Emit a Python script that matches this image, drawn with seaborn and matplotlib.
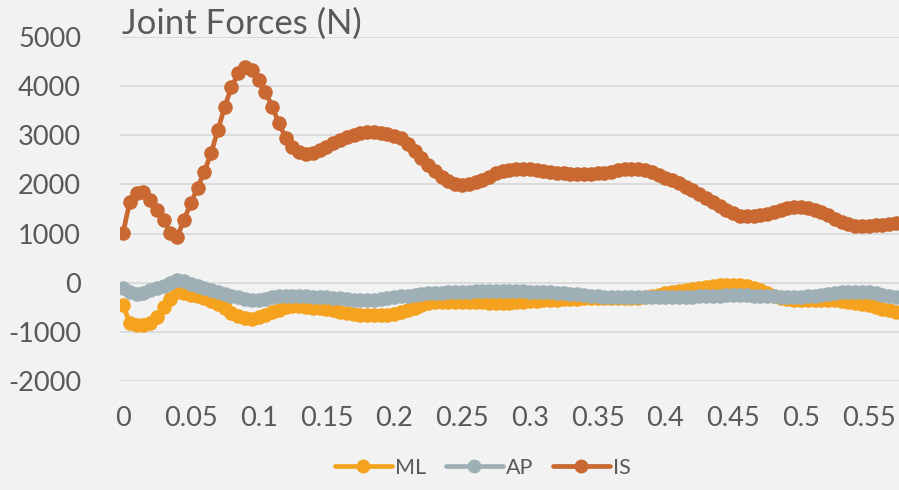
import matplotlib
matplotlib.use("Agg")
import matplotlib.pyplot as plt
import seaborn as sns
import pandas as pd
import numpy as np
from matplotlib.lines import Line2D

# joint force components, sampled every 0.005 s
step = 0.005

ml = [-456, -820, -860, -860, -820, -690, -500, -330, -190, -200,
      -240, -280, -320, -370, -430, -520, -610, -680, -720, -730,
      -700, -650, -600, -550, -500, -480, -480, -490, -510, -520,
      -530, -560, -590, -620, -640, -650, -660, -660, -660, -660,
      -640, -600, -560, -510, -460, -420, -400, -390, -390, -390,
      -390, -390, -395, -400, -410, -420, -420, -410, -400, -390,
      -380, -370, -360, -355, -350, -340, -330, -325, -320, -320,
      -320, -320, -320, -320, -320, -320, -310, -290, -270, -240,
      -210, -190, -170, -140, -120, -100, -80, -60, -50, -40,
      -40, -50, -70, -100, -140, -200, -260, -310, -340, -350,
      -360, -360, -355, -350, -350, -355, -370, -390, -410, -430,
      -460, -500, -530, -560, -590]

ap = [-100, -190, -220, -200, -150, -110, -60, 0, 50, 30,
      -20, -60, -100, -140, -180, -220, -260, -300, -330, -350,
      -350, -330, -300, -280, -270, -270, -275, -280, -290, -295,
      -300, -310, -320, -335, -345, -350, -355, -350, -340, -320,
      -300, -280, -260, -245, -230, -215, -205, -200, -195, -190,
      -185, -180, -178, -175, -172, -170, -170, -170, -172, -175,
      -180, -185, -190, -195, -200, -210, -220, -235, -250, -265,
      -275, -285, -290, -295, -295, -295, -295, -295, -295, -295,
      -295, -295, -295, -290, -285, -280, -270, -265, -260, -255,
      -252, -252, -255, -260, -265, -270, -280, -285, -288, -288,
      -285, -275, -260, -240, -220, -200, -185, -180, -180, -185,
      -195, -215, -240, -265, -290]

is_ = [1010, 1650, 1820, 1850, 1690, 1490, 1280, 1010, 930, 1280,
       1620, 1930, 2260, 2640, 3110, 3580, 3980, 4260, 4380, 4330,
       4130, 3890, 3580, 3250, 2940, 2770, 2660, 2620, 2640, 2700,
       2770, 2840, 2900, 2960, 3010, 3040, 3060, 3060, 3050, 3020,
       2990, 2940, 2820, 2680, 2540, 2400, 2270, 2150, 2060, 2010,
       1990, 2000, 2040, 2090, 2160, 2230, 2270, 2300, 2320, 2320,
       2310, 2290, 2270, 2260, 2240, 2230, 2220, 2220, 2220, 2220,
       2230, 2240, 2260, 2290, 2310, 2320, 2310, 2290, 2260, 2200,
       2140, 2090, 2020, 1950, 1880, 1800, 1720, 1640, 1560, 1480,
       1410, 1360, 1350, 1350, 1370, 1400, 1440, 1490, 1520, 1540,
       1540, 1520, 1490, 1440, 1370, 1300, 1240, 1190, 1160, 1150,
       1160, 1170, 1180, 1200, 1220]

series = ["ML", "AP", "IS"]
colors = ["#F5A31F", "#9EB0B6", "#C96830"]
xticks = [0, 0.05, 0.1, 0.15, 0.2, 0.25, 0.3, 0.35, 0.4, 0.45, 0.5, 0.55]
xticklabels = ["0", "0.05", "0.1", "0.15", "0.2", "0.25", "0.3", "0.35", "0.4", "0.45", "0.5", "0.55"]
yticks = [-2000, -1000, 0, 1000, 2000, 3000, 4000, 5000]

t = np.arange(len(ml)) * step
df = pd.concat([
    pd.DataFrame({"t": t, "force": ml, "series": "ML"}),
    pd.DataFrame({"t": t, "force": ap, "series": "AP"}),
    pd.DataFrame({"t": t, "force": is_, "series": "IS"}),
])

sns.set_theme(style="white")
plt.rcParams["font.family"] = ["Lato", "DejaVu Sans"]
txt = "#595959"
bg = "#F2F2F2"

fig = plt.figure(figsize=(8.99, 4.9), dpi=100, facecolor=bg)
ax = fig.add_axes([0.1335, 0.2224, 0.8665, 0.7021], facecolor=bg)

sns.lineplot(data=df, x="t", y="force", hue="series", hue_order=series,
             palette=colors, marker="o", markersize=10.5, markeredgewidth=0,
             linewidth=3.4, sort=False, legend=False, ax=ax)

ax.set_xlim(-0.0022, 0.5723)
ax.set_ylim(-2000, 5000)
ax.set_xticks(xticks)
ax.set_xticklabels(xticklabels)
ax.set_yticks(yticks)
ax.set_yticklabels([str(v) for v in yticks])
ax.grid(axis="y", color="#D9D9D9", linewidth=1.3)
ax.set_axisbelow(True)
for s in ax.spines.values():
    s.set_visible(False)
ax.tick_params(axis="both", length=0, labelsize=19.5, colors=txt)
ax.tick_params(axis="x", pad=18)
ax.tick_params(axis="y", pad=28)
ax.set_xlabel("")
ax.set_ylabel("")

fig.text(0.1357, 0.951, "Joint Forces (N)", fontsize=25, color=txt,
         ha="left", va="center")

handles = [Line2D([0], [0], color=c, linewidth=3.4, marker="o", markersize=9)
           for c in colors]
fig.legend(handles, series, loc="center", bbox_to_anchor=(0.537, 0.045),
           ncol=3, frameon=False, fontsize=15.5, labelcolor=txt,
           handlelength=2.65, handletextpad=0.15, columnspacing=0.9)

fig.savefig("out.png", dpi=100, facecolor=bg)
